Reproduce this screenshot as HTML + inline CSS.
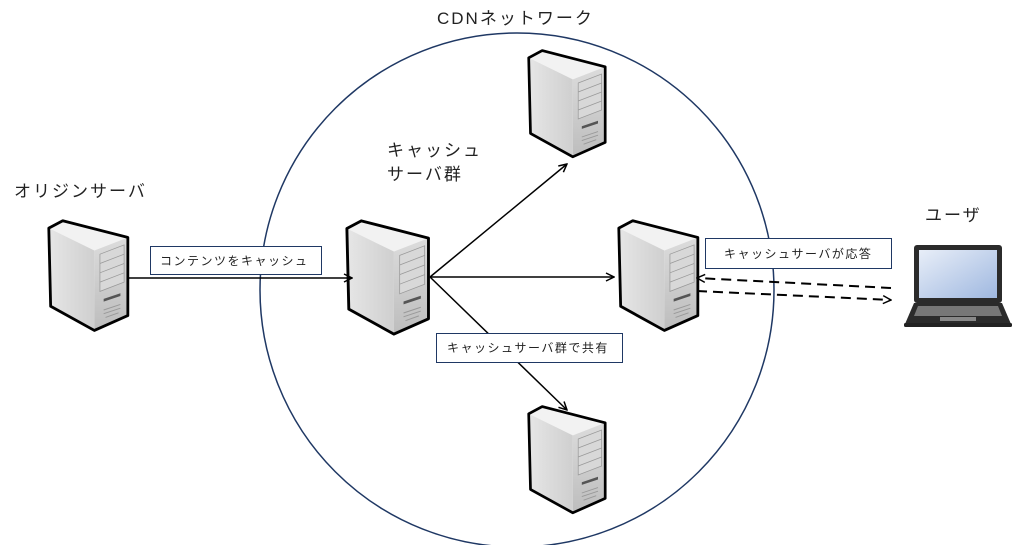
<!DOCTYPE html>
<html><head><meta charset="utf-8"><style>
body{margin:0;width:1024px;height:545px;background:#fff;overflow:hidden;font-family:"Liberation Sans","Noto Sans CJK JP",sans-serif;}
svg{position:absolute;left:0;top:0}
text{font-family:"Liberation Sans","Noto Sans CJK JP",sans-serif;fill:#222}
</style></head><body>
<svg width="1024" height="545" viewBox="0 0 1024 545">
<defs>
<linearGradient id="lf" x1="0" y1="0" x2="1" y2="0"><stop offset="0" stop-color="#e6e6e6"/><stop offset="1" stop-color="#cfcfcf"/></linearGradient>
<linearGradient id="ff" x1="0" y1="0" x2="0" y2="1"><stop offset="0" stop-color="#dcdcdc"/><stop offset="1" stop-color="#bdbdbd"/></linearGradient>
<linearGradient id="scr" x1="0" y1="0" x2="1" y2="1"><stop offset="0" stop-color="#e8eef8"/><stop offset="1" stop-color="#9fb8e0"/></linearGradient>
<g id="srv">
<polygon points="3,12 18,4 88,22 52,36" fill="#f2f2f2"/>
<polygon points="3,12 52,36 52,122 5,96" fill="url(#lf)"/>
<polygon points="52,36 88,22 88,106 52,122" fill="url(#ff)"/>
<polygon points="58,40 84,30 84,70 58,80" fill="#d8d8d8" stroke="#999" stroke-width="0.8"/>
<line x1="58" y1="50" x2="84" y2="40" stroke="#999" stroke-width="0.8"/>
<line x1="58" y1="60" x2="84" y2="50" stroke="#999" stroke-width="0.8"/>
<line x1="58" y1="70" x2="84" y2="60" stroke="#999" stroke-width="0.8"/>
<polygon points="62,88 80,82 80,85 62,91" fill="#555"/>
<line x1="62" y1="100" x2="80" y2="94" stroke="#999"/>
<line x1="62" y1="104" x2="80" y2="98" stroke="#999"/>
<line x1="64" y1="108" x2="78" y2="103" stroke="#999"/>
<polygon points="3,12 18,4 88,22 88,106 52,122 5,96" fill="none" stroke="#000" stroke-width="3" stroke-linejoin="round"/>
</g>
<marker id="ah" markerWidth="10" markerHeight="10" refX="9" refY="5" orient="auto" markerUnits="userSpaceOnUse"><path d="M1,1 L9,5 L1,9" fill="none" stroke="#000" stroke-width="1.5"/></marker>
</defs>
<circle cx="517" cy="290" r="257" fill="none" stroke="#1f3864" stroke-width="1.5"/>
<use href="#srv" transform="translate(46,217) scale(0.93)"/>
<use href="#srv" transform="translate(344,217) scale(0.96)"/>
<use href="#srv" transform="translate(616,217) scale(0.93)"/>
<use href="#srv" transform="translate(526,47) scale(0.9)"/>
<use href="#srv" transform="translate(526,403) scale(0.9)"/>
<g stroke="#000" stroke-width="1.5" fill="none">
<line x1="128" y1="278" x2="352" y2="278" marker-end="url(#ah)"/>
<line x1="430" y1="277" x2="567" y2="164" marker-end="url(#ah)"/>
<line x1="430" y1="277" x2="614" y2="277" marker-end="url(#ah)"/>
<line x1="430" y1="277" x2="567" y2="410" marker-end="url(#ah)"/>
<line x1="891" y1="288" x2="697" y2="278" stroke-dasharray="10,6" stroke-width="2" marker-end="url(#ah)"/>
<line x1="697" y1="291" x2="891" y2="300" stroke-dasharray="10,6" stroke-width="2" marker-end="url(#ah)"/>
</g>
<g fill="#fff" stroke="#1f3864" stroke-width="1">
<rect x="150.5" y="246.5" width="171" height="28"/>
<rect x="436.5" y="333.5" width="186" height="29"/>
<rect x="705.5" y="238.5" width="186" height="30"/>
</g>
<g font-size="12" letter-spacing="1.5">
<text x="160" y="265">コンテンツをキャッシュ</text>
<text x="447" y="352">キャッシュサーバ群で共有</text>
<text x="724" y="258">キャッシュサーバが応答</text>
</g>
<g font-size="17" letter-spacing="2">
<text x="437" y="24">CDNネットワーク</text>
<text x="387" y="156">キャッシュ</text>
<text x="387" y="180">サーバ群</text>
<text x="14" y="197">オリジンサーバ</text>
<text x="925" y="221">ユーザ</text>
</g>
<!-- laptop -->
<rect x="914" y="245" width="88" height="58" rx="3" fill="#2b2b2b"/>
<rect x="919" y="250" width="78" height="48" fill="url(#scr)"/>
<polygon points="914,303 1002,303 1011,324 905,324" fill="#2b2b2b"/>
<polygon points="918,306 998,306 1002,316 914,316" fill="#777"/>
<rect x="940" y="317" width="36" height="4" fill="#888"/>
<rect x="904" y="323" width="108" height="4" rx="1.5" fill="#222"/>
</svg>
</body></html>
